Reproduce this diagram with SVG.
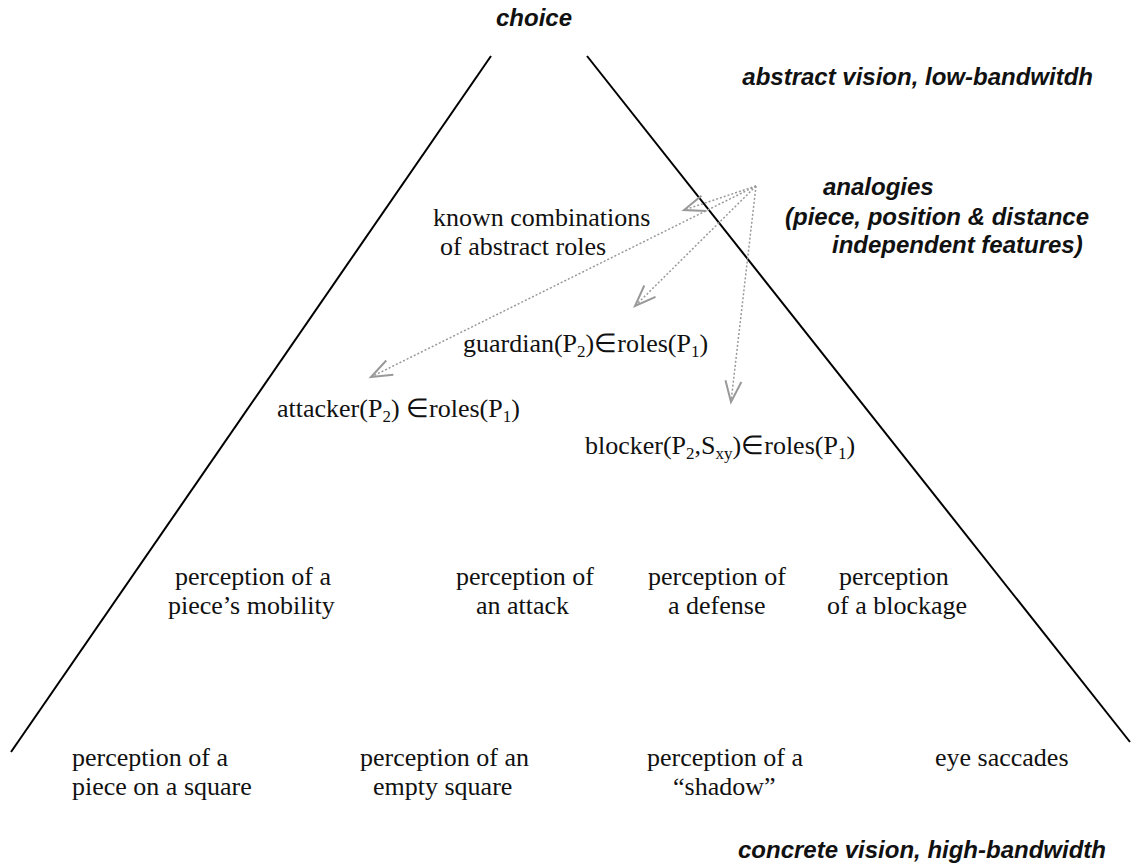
<svg xmlns="http://www.w3.org/2000/svg" width="1131" height="865" viewBox="0 0 1131 865">
<defs>
<style>
.s{font-family:"Liberation Serif","Times New Roman",serif;font-size:26px;fill:#111}
.h{font-family:"Liberation Sans",Arial,sans-serif;font-size:24px;font-weight:bold;font-style:italic;fill:#111}
.sub{font-size:17px}
.edge{stroke:#999;stroke-width:1.5;stroke-dasharray:2 2;fill:none}
.side{stroke:#000;stroke-width:2;fill:none}
</style>
<marker id="arr" markerUnits="userSpaceOnUse" markerWidth="30" markerHeight="30" refX="0" refY="0" viewBox="-25 -12 30 24" orient="auto" overflow="visible">
<path d="M-21,-8 L0,0 L-21,8" fill="none" stroke="#999" stroke-width="2"/>
</marker>
</defs>
<rect width="1131" height="865" fill="#fff"/>
<g id="pyramid">
<line class="side" x1="491" y1="56" x2="11" y2="752"/>
<line class="side" x1="587" y1="56" x2="1130" y2="742"/>
</g>
<g id="connectors">
<line class="edge" x1="756" y1="186" x2="684" y2="210" marker-end="url(#arr)"/>
<line class="edge" x1="756" y1="186" x2="635" y2="306" marker-end="url(#arr)"/>
<line class="edge" x1="756" y1="186" x2="371" y2="377" marker-end="url(#arr)"/>
<line class="edge" x1="756" y1="186" x2="731" y2="402" marker-end="url(#arr)"/>
</g>
<g id="choice"><text class="h" x="496" y="26">choice</text></g>
<g id="abstract"><text class="h" x="1093" y="85" text-anchor="end">abstract vision, low-bandwitdh</text></g>
<g id="analogies">
<text class="h" x="823" y="195">analogies</text>
<text class="h" x="785" y="225">(piece, position &amp; distance</text>
<text class="h" x="832" y="253">independent features)</text>
</g>
<g id="known">
<text class="s" x="433" y="226">known combinations</text>
<text class="s" x="440" y="255">of abstract roles</text>
</g>
<g id="guardian"><text class="s" x="463" y="352">guardian(P<tspan class="sub" dy="5">2</tspan><tspan dy="-5">)∈roles(P</tspan><tspan class="sub" dy="5">1</tspan><tspan dy="-5">)</tspan></text></g>
<g id="attacker"><text class="s" x="277" y="417">attacker(P<tspan class="sub" dy="5">2</tspan><tspan dy="-5">) ∈roles(P</tspan><tspan class="sub" dy="5">1</tspan><tspan dy="-5">)</tspan></text></g>
<g id="blocker"><text class="s" x="585" y="454">blocker(P<tspan class="sub" dy="5">2</tspan><tspan dy="-5">,S</tspan><tspan class="sub" dy="5">xy</tspan><tspan dy="-5">)∈roles(P</tspan><tspan class="sub" dy="5">1</tspan><tspan dy="-5">)</tspan></text></g>
<g id="mobility">
<text class="s" x="175" y="585">perception of a</text>
<text class="s" x="168" y="614">piece’s mobility</text>
</g>
<g id="attack">
<text class="s" x="456" y="585">perception of</text>
<text class="s" x="476" y="614">an attack</text>
</g>
<g id="defense">
<text class="s" x="648" y="585">perception of</text>
<text class="s" x="668" y="614">a defense</text>
</g>
<g id="blockage">
<text class="s" x="839" y="585">perception</text>
<text class="s" x="827" y="614">of a blockage</text>
</g>
<g id="piece-square">
<text class="s" x="72" y="766">perception of a</text>
<text class="s" x="72" y="795">piece on a square</text>
</g>
<g id="empty-square">
<text class="s" x="360" y="766">perception of an</text>
<text class="s" x="373" y="795">empty square</text>
</g>
<g id="shadow">
<text class="s" x="647" y="766">perception of a</text>
<text class="s" x="673" y="795">“shadow”</text>
</g>
<g id="saccades"><text class="s" x="935" y="766">eye saccades</text></g>
<g id="concrete"><text class="h" x="1106" y="858" text-anchor="end">concrete vision, high-bandwidth</text></g>
</svg>
